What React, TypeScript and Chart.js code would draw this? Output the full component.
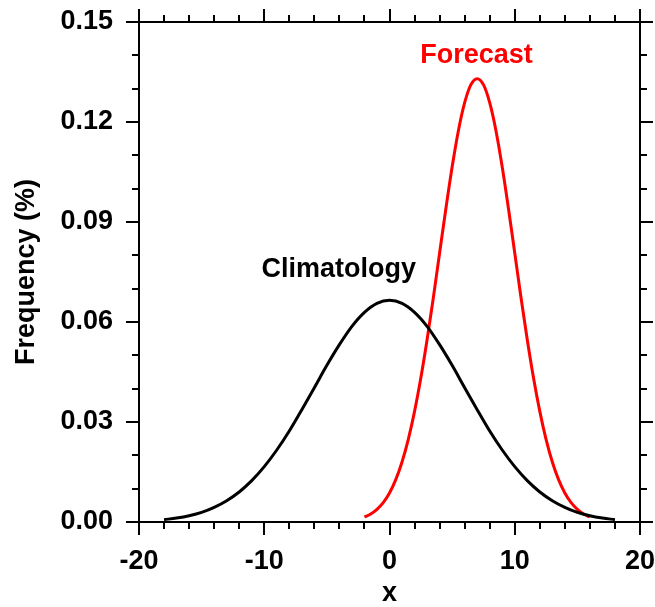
import React, { useEffect, useRef } from "react";
import { Chart, registerables } from "chart.js";

Chart.register(...registerables);

// Climatology curve (x, frequency)
const climX = [-18, -17, -16, -15, -14, -13, -12, -11, -10, -9, -8, -7, -6, -5, -4, -3, -2, -1, 0, 1, 2, 3, 4, 5, 6, 7, 8, 9, 10, 11, 12, 13, 14, 15, 16, 17, 18];
const climY = [0.0007, 0.0012, 0.0019, 0.0029, 0.0044, 0.0064, 0.0090, 0.0124, 0.0166, 0.0216, 0.0273, 0.0337, 0.0403, 0.0470, 0.0532, 0.0587, 0.0629, 0.0656, 0.0665, 0.0656, 0.0629, 0.0587, 0.0532, 0.0470, 0.0403, 0.0337, 0.0273, 0.0216, 0.0166, 0.0124, 0.0090, 0.0064, 0.0044, 0.0029, 0.0019, 0.0012, 0.0007];

// Forecast curve (x, frequency)
const fcstX = [-2, -1.5, -1, -0.5, 0, 0.5, 1, 1.5, 2, 2.5, 3, 3.5, 4, 4.5, 5, 5.5, 6, 6.5, 7, 7.5, 8, 8.5, 9, 9.5, 10, 10.5, 11, 11.5, 12, 12.5, 13, 13.5, 14, 14.5, 15, 15.5, 16];
const fcstY = [0.0015, 0.0024, 0.0038, 0.0058, 0.0087, 0.0127, 0.0180, 0.0248, 0.0332, 0.0432, 0.0547, 0.0673, 0.0807, 0.0940, 0.1065, 0.1174, 0.1258, 0.1312, 0.1330, 0.1312, 0.1258, 0.1174, 0.1065, 0.0940, 0.0807, 0.0673, 0.0547, 0.0432, 0.0332, 0.0248, 0.0180, 0.0127, 0.0087, 0.0058, 0.0038, 0.0024, 0.0015];

const xMajorTicks = [-20, -10, 0, 10, 20];
const xTickLabels = ["-20", "-10", "0", "10", "20"];
const xMinorTicks = [-18, -16, -14, -12, -8, -6, -4, -2, 2, 4, 6, 8, 12, 14, 16, 18];
const yMajorTicks = [0, 0.03, 0.06, 0.09, 0.12, 0.15];
const yTickLabels = ["0.00", "0.03", "0.06", "0.09", "0.12", "0.15"];
const yMinorTicks = [0.01, 0.02, 0.04, 0.05, 0.07, 0.08, 0.1, 0.11, 0.13, 0.14];

const xTitle = "x";
const yTitle = "Frequency (%)";
const climLabel = { text: "Climatology", x: -4.05, y: 0.0756 };
const fcstLabel = { text: "Forecast", x: 6.95, y: 0.1398 };

const FONT = "bold 27px 'Liberation Sans', Arial, Helvetica, sans-serif";

const framePlugin = {
  id: "nclFrame",
  afterDraw(chart: any) {
    const ctx = chart.ctx;
    const xs = chart.scales.x;
    const ys = chart.scales.y;
    const { left, right, top, bottom } = chart.chartArea;
    ctx.save();
    ctx.strokeStyle = "#000";
    ctx.lineWidth = 2;
    ctx.lineCap = "butt";
    ctx.strokeRect(left, top, right - left, bottom - top);
    const major = 13;
    const minor = 7;
    ctx.beginPath();
    const xt = (vals: number[], len: number) => {
      vals.forEach((v) => {
        const p = Math.round(xs.getPixelForValue(v));
        ctx.moveTo(p, bottom);
        ctx.lineTo(p, bottom + len);
        ctx.moveTo(p, top);
        ctx.lineTo(p, top - len);
      });
    };
    const yt = (vals: number[], len: number) => {
      vals.forEach((v) => {
        const p = Math.round(ys.getPixelForValue(v));
        ctx.moveTo(left, p);
        ctx.lineTo(left - len, p);
        ctx.moveTo(right, p);
        ctx.lineTo(right + len, p);
      });
    };
    xt(xMajorTicks, major);
    xt(xMinorTicks, minor);
    yt(yMajorTicks, major);
    yt(yMinorTicks, minor);
    ctx.stroke();

    ctx.font = FONT;
    ctx.fillStyle = "#000";
    ctx.textAlign = "right";
    ctx.textBaseline = "middle";
    yMajorTicks.forEach((v, i) => {
      ctx.fillText(yTickLabels[i], left - 26, ys.getPixelForValue(v));
    });
    ctx.textAlign = "center";
    xMajorTicks.forEach((v, i) => {
      ctx.fillText(xTickLabels[i], xs.getPixelForValue(v), bottom + 40);
    });
    ctx.fillText(xTitle, (left + right) / 2, bottom + 72);
    ctx.save();
    ctx.translate(27, (top + bottom) / 2);
    ctx.rotate(-Math.PI / 2);
    ctx.fillText(yTitle, 0, 0);
    ctx.restore();

    ctx.fillStyle = "#000";
    ctx.fillText(climLabel.text, xs.getPixelForValue(climLabel.x), ys.getPixelForValue(climLabel.y));
    ctx.fillStyle = "#ff0000";
    ctx.fillText(fcstLabel.text, xs.getPixelForValue(fcstLabel.x), ys.getPixelForValue(fcstLabel.y));
    ctx.restore();
  },
};

export default function App() {
  const ref = useRef<HTMLCanvasElement | null>(null);
  useEffect(() => {
    if (!ref.current) return;
    const chart = new Chart(ref.current, {
      type: "line",
      data: {
        datasets: [
          {
            label: "Climatology",
            data: climX.map((x, i) => ({ x, y: climY[i] })),
            borderColor: "#000000",
            borderWidth: 3,
            pointRadius: 0,
            cubicInterpolationMode: "monotone",
            fill: false,
          },
          {
            label: "Forecast",
            data: fcstX.map((x, i) => ({ x, y: fcstY[i] })),
            borderColor: "#ff0000",
            borderWidth: 3,
            pointRadius: 0,
            cubicInterpolationMode: "monotone",
            fill: false,
          },
        ],
      },
      options: {
        responsive: false,
        animation: false,
        layout: { padding: { left: 139, right: 15, top: 22, bottom: 85 } },
        plugins: { legend: { display: false }, tooltip: { enabled: false } },
        scales: {
          x: { type: "linear", min: -20, max: 20, display: false },
          y: { type: "linear", min: 0, max: 0.15, display: false },
        },
      },
      plugins: [framePlugin],
    });
    return () => chart.destroy();
  }, []);
  return (
    <div style={{ position: "absolute", left: 0, top: 0, width: 655, height: 607, background: "#fff" }}>
      <canvas ref={ref} width={655} height={607} />
    </div>
  );
}
